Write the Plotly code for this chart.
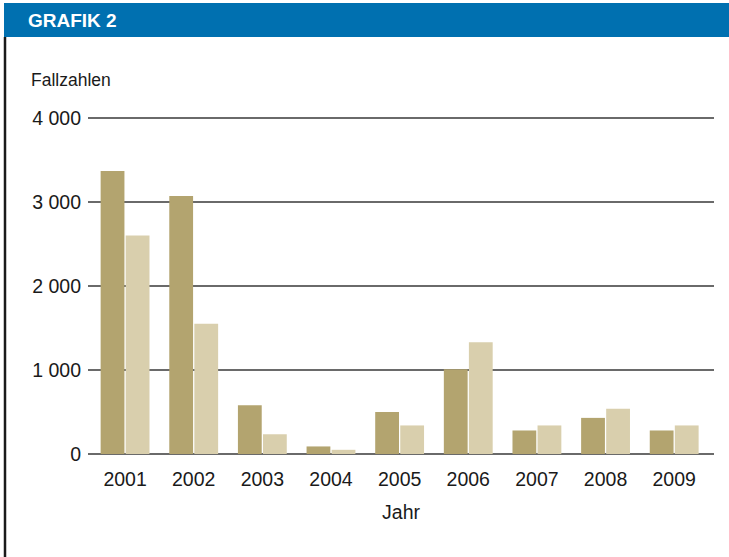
import plotly.graph_objects as go

years = ["2001", "2002", "2003", "2004", "2005", "2006", "2007", "2008", "2009"]
series_dark = [3370, 3070, 580, 90, 500, 1010, 280, 430, 280]
series_light = [2600, 1550, 235, 50, 340, 1330, 340, 540, 340]
y_ticks = [0, 1000, 2000, 3000, 4000]
y_tick_labels = ["0", "1 000", "2 000", "3 000", "4 000"]

W, H = 729, 557
L, R, T, B = 88, 15, 116, 103
PW, PH = W - L - R, H - T - B
Y_TOP = 4000 * PH / 336.0  # keep 84 px per 1000


def xp(px):
    return (px - L) / PW


def yp(py):
    return (H - B - py) / PH


FONT = "Liberation Sans, Arial, Helvetica, sans-serif"
GRID = "#6a6a6a"

fig = go.Figure()
fig.add_trace(go.Bar(x=years, y=series_dark, marker=dict(color="#b3a46f", line=dict(width=0)),
                     showlegend=False, name="A"))
fig.add_trace(go.Bar(x=years, y=series_light, marker=dict(color="#d9cfad", line=dict(width=0)),
                     showlegend=False, name="B"))

fig.update_layout(
    width=W, height=H,
    margin=dict(l=L, r=R, t=T, b=B, pad=0),
    paper_bgcolor="white", plot_bgcolor="white",
    barmode="group", bargap=0.27, bargroupgap=0.05,
    font=dict(family=FONT, color="#1a1a1a", size=19),
    xaxis=dict(
        type="category", range=[-0.54, 8.58],
        showgrid=False, showline=False, zeroline=False, ticks="",
        tickfont=dict(size=19.5, family=FONT, color="#1a1a1a"),
        ticklabelstandoff=11,
        title=dict(text="Jahr", font=dict(size=19.5, family=FONT, color="#1a1a1a"), standoff=16),
    ),
    yaxis=dict(
        range=[0, Y_TOP], tickvals=y_ticks, ticktext=y_tick_labels,
        showgrid=True, gridcolor=GRID, gridwidth=2,
        zeroline=True, zerolinecolor=GRID, zerolinewidth=2,
        showline=False, ticks="",
        tickfont=dict(size=19.5, family=FONT, color="#1a1a1a"),
        ticklabelstandoff=6,
    ),
    shapes=[
        dict(type="rect", xref="paper", yref="paper", x0=xp(4), x1=xp(729), y0=yp(37), y1=yp(3),
             fillcolor="#0070b0", line=dict(width=0), layer="above"),
        dict(type="line", xref="paper", yref="paper", x0=xp(5), x1=xp(5), y0=yp(557), y1=yp(37),
             line=dict(color="#1a1a1a", width=2.5), layer="above"),
    ],
    annotations=[
        dict(text="<b>GRAFIK 2</b>", xref="paper", yref="paper", x=xp(26), y=yp(20),
             xanchor="left", yanchor="middle", showarrow=False,
             font=dict(family="Liberation Sans Narrow, Arial Narrow, sans-serif", size=19, color="white")),
        dict(text="Fallzahlen", xref="paper", yref="paper", x=xp(29), y=yp(80),
             xanchor="left", yanchor="middle", showarrow=False,
             font=dict(family=FONT, size=17.5, color="#1a1a1a")),
    ],
)

fig.write_html("out.html")
